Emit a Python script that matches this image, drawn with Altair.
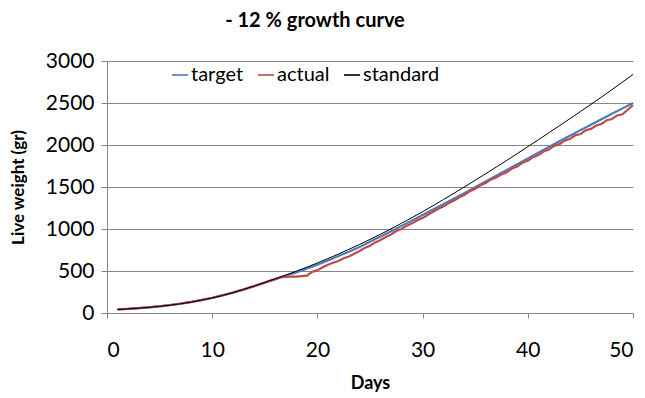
import altair as alt
import pandas as pd

FONT = "Lato"

SERIES = ["target", "actual", "standard"]
COLORS = ["#4A7EBB", "#BE4B48", "#000000"]
WIDTHS = [2.2, 2.2, 1.0]

DAYS = list(range(1, 51))

TARGET = [42, 49, 57, 67, 79, 93, 110, 130, 153, 179,
          208, 241, 278, 318, 360, 403, 446, 484, 528, 576,
          626, 678, 730, 787, 847, 910, 973, 1037, 1102, 1167,
          1232, 1298, 1364, 1430, 1497, 1565, 1634, 1703, 1772, 1841,
          1909, 1977, 2044, 2111, 2177, 2242, 2307, 2371, 2436, 2500]

STANDARD = [42, 49, 57, 67, 79, 93, 110, 130, 153, 179,
            209, 243, 281, 322, 364, 407, 452, 498, 546, 596,
            648, 702, 758, 816, 876, 938, 1002, 1068, 1136, 1206,
            1278, 1352, 1427, 1503, 1580, 1658, 1737, 1817, 1898, 1980,
            2062, 2145, 2229, 2313, 2398, 2484, 2570, 2659, 2749, 2840]

# actual: measured twice a day (day 1, 1.5, 2, ... 50)
ACTUAL_DAYS = [1 + 0.5 * i for i in range(99)]
ACTUAL = [42, 46, 49, 54, 58, 63, 68, 75, 80, 88,
          95, 104, 112, 124, 133, 145, 156, 170, 182, 198,
          212, 229, 245, 265, 282, 302, 320, 342, 362, 386,
          403, 425, 430, 432, 434, 440, 445, 490, 510, 545,
          575, 598, 620, 652, 672, 705, 738, 775, 800, 840,
          870, 905, 935, 975, 1000, 1040, 1068, 1105, 1130, 1170,
          1205, 1240, 1270, 1308, 1338, 1378, 1408, 1450, 1478, 1520,
          1548, 1590, 1612, 1650, 1675, 1720, 1745, 1790, 1812, 1855,
          1880, 1922, 1945, 1990, 2010, 2052, 2070, 2115, 2130, 2175,
          2192, 2232, 2250, 2295, 2310, 2352, 2365, 2420, 2475]

Y_TICKS = [0, 500, 1000, 1500, 2000, 2500, 3000]
X_TICKS = [0, 10, 20, 30, 40, 50]

rows = []
for d, v in zip(DAYS, TARGET):
    rows.append({"day": d, "weight": v, "series": "target"})
for d, v in zip(ACTUAL_DAYS, ACTUAL):
    rows.append({"day": d, "weight": v, "series": "actual"})
for d, v in zip(DAYS, STANDARD):
    rows.append({"day": d, "weight": v, "series": "standard"})
df = pd.DataFrame(rows)

x_enc = alt.X("day:Q",
              scale=alt.Scale(domain=[0, 50], nice=False),
              axis=alt.Axis(values=X_TICKS, title="Days", grid=False,
                            format="d", tickSize=5, labelPadding=21,
                            titleX=263, titleY=70, titleBaseline="middle"))
y_enc = alt.Y("weight:Q",
              scale=alt.Scale(domain=[0, 3000], nice=False),
              axis=alt.Axis(values=Y_TICKS, title="Live weight (gr)",
                            format="d", grid=True, tickSize=6, labelPadding=7,
                            titleX=-89, titleY=126, titleAngle=270,
                            titleAlign="center", titleBaseline="middle"))

color_enc = alt.Color("series:N",
                      scale=alt.Scale(domain=SERIES, range=COLORS),
                      sort=SERIES,
                      legend=alt.Legend(title=None, orient="none",
                                        legendX=63, legendY=4,
                                        direction="horizontal",
                                        symbolType="stroke", symbolSize=260,
                                        symbolStrokeWidth=1.6,
                                        labelFontSize=20, labelFont=FONT,
                                        labelColor="#000000", labelOffset=1,
                                        columnPadding=10, symbolOffset=0))

layers = []
for s, w in zip(SERIES, WIDTHS):
    layers.append(
        alt.Chart(df).transform_filter(alt.datum.series == s)
        .mark_line(interpolate="linear", strokeWidth=w)
        .encode(x=x_enc, y=y_enc, color=color_enc)
    )

chart = alt.layer(*layers).properties(
    width=526, height=252,
    background="white",
    title=alt.TitleParams("- 12 % growth curve", fontSize=20, font=FONT,
                          fontWeight="bold", anchor="middle", dx=-55,
                          offset=19, color="#000000"),
    autosize=alt.AutoSizeParams(type="none"),
    padding={"left": 107, "top": 61, "right": 12, "bottom": 85},
).configure_view(stroke=None).configure_axis(
    labelFont=FONT, labelFontSize=21, labelColor="#000000",
    titleFont=FONT, titleFontWeight="bold", titleColor="#000000",
    domainColor="#868686", tickColor="#868686", gridColor="#868686",
    domainWidth=1, tickWidth=1, gridWidth=1,
).configure_axisX(titleFontSize=18).configure_axisY(titleFontSize=17)

chart.save("out.html", embed_options={"renderer": "svg", "actions": False})
